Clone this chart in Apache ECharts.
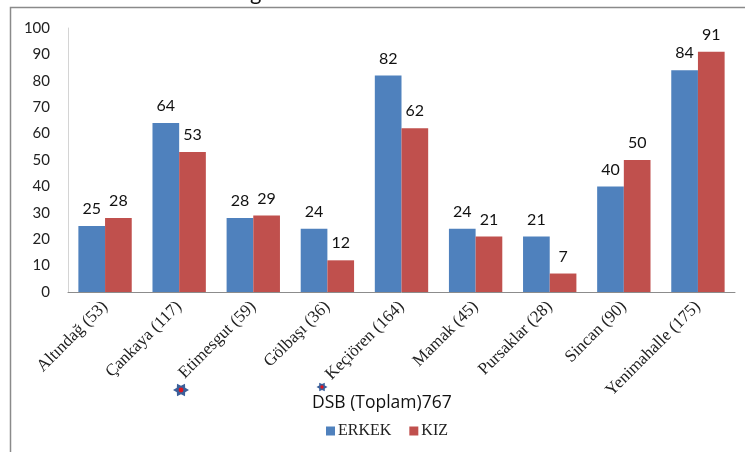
<!DOCTYPE html>
<html>
<head>
<meta charset="utf-8">
<script src="https://cdn.jsdelivr.net/npm/echarts@6/dist/echarts.min.js"></script>
<style>
  html, body { margin: 0; padding: 0; background: #fff; }
  #chart { width: 745px; height: 452px; }
</style>
</head>
<body>
<div id="chart"></div>
<script>
const districts = ['Altındağ (53)', 'Çankaya (117)', 'Etimesgut (59)', 'Gölbaşı (36)', 'Keçiören (164)',
  'Mamak (45)', 'Pursaklar (28)', 'Sincan (90)', 'Yenimahalle (175)'];
const erkek = [25, 64, 28, 24, 82, 24, 21, 40, 84];
const kiz = [28, 53, 29, 12, 62, 21, 7, 50, 91];
const yTicks = [0, 10, 20, 30, 40, 50, 60, 70, 80, 90, 100];

// small blue 6-point star with red dot (decoration in the original)
const star = (cx, cy, R) => {
  const pts = [];
  for (let i = 0; i < 12; i++) {
    const r = i % 2 === 0 ? R : R * 0.6;
    const a = i * Math.PI / 6;
    pts.push([cx + r * Math.cos(a), cy - r * 0.9 * Math.sin(a)]);
  }
  return [
    { type: 'polygon', shape: { points: pts }, style: { fill: '#3b5f9a' } },
    { type: 'circle', shape: { cx: cx, cy: cy, r: R * 0.3 }, style: { fill: '#e0141e' } }
  ];
};

const chart = echarts.init(document.getElementById('chart'));
const labelStyle = {
  show: true,
  position: 'top',
  distance: 9,
  fontFamily: 'Lato',
  fontSize: 16,
  color: '#111'
};

chart.setOption({
  animation: false,
  grid: { left: 68, right: 10, top: 28, bottom: 160 },
  legend: {
    bottom: 13,
    left: 326,
    padding: 0,
    itemWidth: 9,
    itemHeight: 9,
    itemGap: 18,
    icon: 'rect',
    textStyle: { fontFamily: 'Liberation Serif', fontSize: 16, color: '#222', padding: [0, 0, 0, -2] },
    data: ['ERKEK', 'KIZ']
  },
  xAxis: {
    type: 'category',
    data: districts,
    axisLine: { lineStyle: { color: '#8c8c8c', width: 1 } },
    axisTick: { show: false },
    axisLabel: {
      interval: 0,
      rotate: 45,
      margin: 12,
      fontFamily: 'Liberation Serif',
      fontSize: 17,
      color: '#222'
    }
  },
  yAxis: {
    type: 'value',
    min: yTicks[0],
    max: yTicks[yTicks.length - 1],
    interval: 10,
    splitLine: { show: false },
    axisLine: { show: true, lineStyle: { color: '#d4d4d4' } },
    axisTick: { show: false },
    axisLabel: { margin: 18, fontFamily: 'Lato', fontSize: 15, color: '#222' }
  },
  series: [
    {
      name: 'ERKEK',
      type: 'bar',
      data: erkek,
      barGap: '0%',
      barCategoryGap: '28%',
      itemStyle: { color: '#4f81bd' },
      label: labelStyle
    },
    {
      name: 'KIZ',
      type: 'bar',
      data: kiz,
      itemStyle: { color: '#c0504d' },
      label: labelStyle
    }
  ],
  graphic: [
    {
      type: 'rect',
      shape: { x: 10.5, y: 7.5, width: 800, height: 500 },
      style: { fill: 'none', stroke: '#8a8a8a', lineWidth: 1.5 },
      silent: true
    },
    {
      type: 'text',
      left: 250,
      top: -18,
      style: { text: 'g', fontFamily: 'Lato', fontSize: 22, fill: '#111' }
    },
    {
      type: 'text',
      left: 312,
      top: 394,
      style: { text: 'DSB (Toplam)767', fontFamily: 'Open Sans', fontSize: 17.5, fill: '#111' }
    },
    ...star(181, 390, 8),
    ...star(322, 387, 5.5)
  ]
});
</script>
</body>
</html>
